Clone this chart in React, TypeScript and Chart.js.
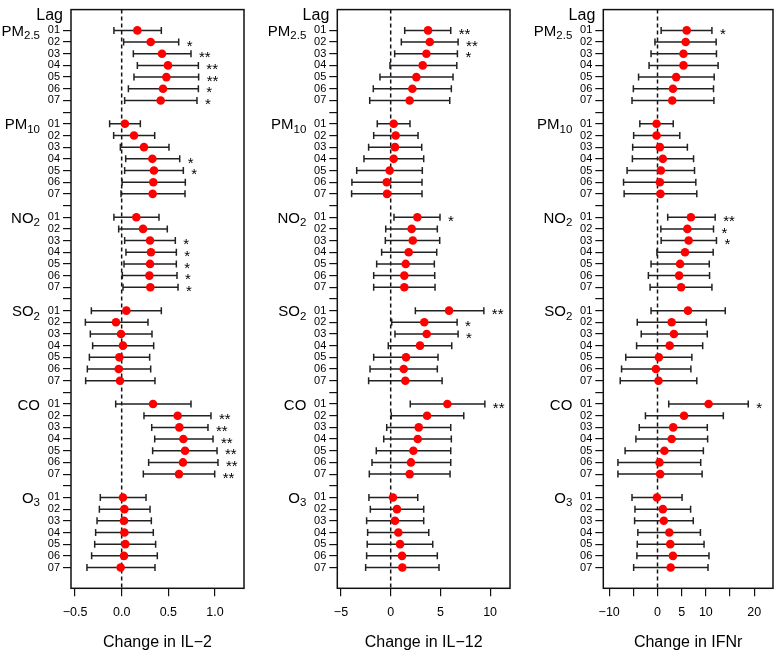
import React, { useEffect, useRef } from "react";
import { Chart, registerables } from "chart.js";

Chart.register(...registerables);

const FONT = "'Liberation Sans', Arial, Helvetica, sans-serif";

// ---------- categories ----------
const pollutantMain = ["PM", "PM", "NO", "SO", "CO", "O"];
const pollutantSub = ["2.5", "10", "2", "2", "", "3"];
const lagLabels = ["01", "02", "03", "04", "05", "06", "07"];

// ---------- IL-2 (order: PM2.5, PM10, NO2, SO2, CO, O3; lags 01..07) ----------
const il2Est = [
  0.168, 0.311, 0.432, 0.496, 0.479, 0.443, 0.418,
  0.035, 0.132, 0.239, 0.329, 0.346, 0.339, 0.332,
  0.157, 0.229, 0.304, 0.314, 0.304, 0.297, 0.307,
  0.05, -0.061, -0.007, 0.014, -0.025, -0.032, -0.018,
  0.336, 0.6, 0.618, 0.661, 0.679, 0.657, 0.614,
  0.014, 0.029, 0.025, 0.029, 0.039, 0.025, -0.011,
];
const il2Lo = [
  -0.083, 0.021, 0.125, 0.168, 0.132, 0.072, 0.032,
  -0.129, -0.086, -0.014, 0.043, 0.032, 0.004, -0.007,
  -0.083, -0.032, 0.032, 0.046, 0.025, 0.007, 0.014,
  -0.325, -0.389, -0.336, -0.311, -0.346, -0.368, -0.386,
  -0.064, 0.239, 0.322, 0.354, 0.332, 0.289, 0.232,
  -0.229, -0.239, -0.264, -0.279, -0.289, -0.322, -0.372,
];
const il2Hi = [
  0.425, 0.611, 0.743, 0.822, 0.825, 0.822, 0.807,
  0.2, 0.354, 0.507, 0.622, 0.661, 0.682, 0.679,
  0.4, 0.489, 0.575, 0.586, 0.586, 0.593, 0.604,
  0.425, 0.282, 0.325, 0.343, 0.3, 0.311, 0.357,
  0.743, 0.957, 0.925, 0.979, 1.022, 1.032, 0.997,
  0.261, 0.304, 0.318, 0.339, 0.364, 0.382, 0.357,
];
const il2Sig = [
  "", "*", "**", "**", "**", "*", "*",
  "", "", "", "*", "*", "", "",
  "", "", "*", "*", "*", "*", "*",
  "", "", "", "", "", "", "",
  "", "**", "**", "**", "**", "**", "**",
  "", "", "", "", "", "", "",
];

// ---------- IL-12 ----------
const il12Est = [
  3.76, 3.93, 3.59, 3.22, 2.58, 2.18, 1.91,
  0.3, 0.5, 0.43, 0.3, -0.1, -0.4, -0.37,
  2.68, 2.11, 2.22, 1.81, 1.51, 1.37, 1.37,
  5.87, 3.38, 3.62, 2.95, 1.54, 1.31, 1.47,
  5.7, 3.66, 2.82, 2.72, 2.28, 2.04, 1.91,
  0.23, 0.63, 0.43, 0.77, 0.94, 1.14, 1.17,
];
const il12Lo = [
  1.41, 1.07, 0.4, -0.07, -1.08, -1.75, -2.11,
  -1.35, -1.71, -2.22, -2.69, -3.42, -3.9, -3.93,
  0.33, -0.5, -0.54, -0.91, -1.41, -1.71, -1.71,
  2.48, 0.1, 0.43, -0.24, -1.71, -2.08, -2.22,
  1.97, 0.06, -0.4, -0.7, -1.45, -1.88, -2.15,
  -2.19, -2.05, -2.42, -2.32, -2.36, -2.42, -2.52,
];
const il12Hi = [
  6.04, 6.78, 6.71, 6.65, 6.27, 6.1, 5.94,
  1.94, 2.75, 3.12, 3.32, 3.18, 3.15, 3.15,
  4.96, 4.69, 4.93, 4.63, 4.39, 4.43, 4.46,
  9.37, 6.68, 6.78, 6.14, 4.76, 4.69, 5.17,
  9.47, 7.35, 6.04, 6.1, 6.04, 6.04, 5.97,
  2.72, 3.32, 3.32, 3.83, 4.23, 4.69, 4.86,
];
const il12Sig = [
  "**", "**", "*", "", "", "", "",
  "", "", "", "", "", "", "",
  "*", "", "", "", "", "", "",
  "**", "*", "*", "", "", "", "",
  "**", "", "", "", "", "", "",
  "", "", "", "", "", "", "",
];

// ---------- IFNr ----------
const ifnEst = [
  6.04, 5.83, 5.37, 5.37, 3.86, 3.19, 3.05,
  -0.2, -0.2, 0.49, 1.1, 0.69, 0.49, 0.61,
  6.91, 6.18, 6.44, 5.69, 4.67, 4.47, 4.88,
  6.3, 2.93, 3.39, 2.52, 0.28, -0.33, 0.2,
  10.57, 5.49, 3.25, 2.93, 1.42, 0.41, 0.55,
  -0.12, 1.1, 1.3, 2.44, 2.64, 3.19, 2.72,
];
const ifnLo = [
  0.75, -0.53, -1.34, -1.75, -3.92, -5.0, -5.28,
  -3.66, -4.94, -5.14, -5.2, -6.3, -7.03, -6.91,
  2.11, 0.69, 0.75, -0.12, -1.34, -1.89, -1.54,
  -1.34, -4.19, -3.37, -4.33, -6.57, -7.44, -7.72,
  2.32, -2.5, -3.78, -4.47, -6.71, -8.19, -8.19,
  -5.28, -4.67, -4.74, -4.07, -4.19, -4.27, -4.94,
];
const ifnHi = [
  11.26, 12.13, 12.2, 12.54, 11.73, 11.59, 11.67,
  3.25, 4.61, 6.18, 7.46, 7.66, 7.93, 8.13,
  11.93, 11.59, 12.2, 11.52, 10.71, 10.77, 11.26,
  14.02, 10.1, 10.3, 9.35, 7.11, 6.91, 8.13,
  18.78, 13.62, 10.3, 10.37, 9.49, 8.94, 9.23,
  5.08, 6.85, 7.4, 8.88, 9.63, 10.65, 10.45,
];
const ifnSig = [
  "*", "", "", "", "", "", "",
  "", "", "", "", "", "", "",
  "**", "*", "*", "", "", "", "",
  "", "", "", "", "", "", "",
  "*", "", "", "", "", "", "",
  "", "", "", "", "", "", "",
];

// ---------- axis ticks ----------
const il2Ticks = [-0.5, 0, 0.5, 1.0];
const il2TickLabels = ["\u22120.5", "0.0", "0.5", "1.0"];
const il12Ticks = [-5, 0, 5, 10];
const il12TickLabels = ["\u22125", "0", "5", "10"];
const ifnTicks = [-10, -5, 0, 5, 10, 15, 20];
const ifnTickLabels = ["\u221210", "", "0", "5", "10", "", "20"];

const titles = ["Change in IL\u22122", "Change in IL\u221212", "Change in IFNr"];

// row index: one blank row between pollutant groups
const rowOf = (i: number) => 1 + Math.floor(i / 7) * 8 + (i % 7);
const yRows: number[] = [];
const yRowLabels: string[] = [];
for (let p = 0; p < pollutantMain.length; p++) {
  for (let l = 0; l < lagLabels.length; l++) {
    yRows.push(1 + p * 8 + l);
    yRowLabels.push(lagLabels[l]);
  }
  if (p < pollutantMain.length - 1) {
    yRows.push(1 + p * 8 + 7);
    yRowLabels.push("");
  }
}

const Y_MIN = -0.78;
const Y_MAX = 48.78;
const H = 653;
const PLOT_TOP = 2.7;
const PLOT_BOTTOM = 588.3;

type PanelDef = {
  est: number[];
  lo: number[];
  hi: number[];
  sig: string[];
  ticks: number[];
  tickLabels: string[];
  title: string;
  xMin: number;
  xMax: number;
  canvasLeft: number;
  canvasWidth: number;
  plotLeft: number;
  plotRight: number;
};

const panels: PanelDef[] = [
  {
    est: il2Est, lo: il2Lo, hi: il2Hi, sig: il2Sig,
    ticks: il2Ticks, tickLabels: il2TickLabels, title: titles[0],
    xMin: -0.543, xMax: 1.311,
    canvasLeft: 0, canvasWidth: 259, plotLeft: 71, plotRight: 244,
  },
  {
    est: il12Est, lo: il12Lo, hi: il12Hi, sig: il12Sig,
    ticks: il12Ticks, tickLabels: il12TickLabels, title: titles[1],
    xMin: -5.37, xMax: 12.0,
    canvasLeft: 259, canvasWidth: 260, plotLeft: 337.3, plotRight: 510,
  },
  {
    est: ifnEst, lo: ifnLo, hi: ifnHi, sig: ifnSig,
    ticks: ifnTicks, tickLabels: ifnTickLabels, title: titles[2],
    xMin: -11.22, xMax: 23.9,
    canvasLeft: 519, canvasWidth: 259, plotLeft: 603.3, plotRight: 776,
  },
];

function Panel({ def }: { def: PanelDef }) {
  const ref = useRef<HTMLCanvasElement | null>(null);
  useEffect(() => {
    const canvas = ref.current;
    if (!canvas) return;
    const ciData: any[] = [];
    const estData: any[] = [];
    def.est.forEach((e, i) => {
      const r = rowOf(i);
      ciData.push({ x: def.lo[i], y: r }, { x: def.hi[i], y: r }, { x: null, y: null });
      estData.push({ x: e, y: r });
    });
    const zeroData = [{ x: 0, y: Y_MIN }, { x: 0, y: Y_MAX }];

    const yW = def.plotLeft - def.canvasLeft;
    const padRight = def.canvasLeft + def.canvasWidth - def.plotRight;

    const decor = {
      id: "decor",
      afterDraw(chart: any) {
        const ctx = chart.ctx;
        const a = chart.chartArea;
        const xs = chart.scales.x;
        const ys = chart.scales.y;
        ctx.save();
        // box
        ctx.strokeStyle = "#111";
        ctx.lineWidth = 1.5;
        ctx.strokeRect(a.left, a.top, a.right - a.left, a.bottom - a.top);
        // "Lag"
        ctx.fillStyle = "#000";
        ctx.font = `16px ${FONT}`;
        ctx.textAlign = "right";
        ctx.textBaseline = "alphabetic";
        ctx.fillText("Lag", a.left - 8, ys.getPixelForValue(0) + 1.5);
        // pollutant names with subscripts
        for (let p = 0; p < pollutantMain.length; p++) {
          const y = ys.getPixelForValue(rowOf(p * 7));
          const xEnd = a.left - 31;
          ctx.font = `11.5px ${FONT}`;
          const subW = pollutantSub[p] ? ctx.measureText(pollutantSub[p]).width : 0;
          if (pollutantSub[p]) {
            ctx.textAlign = "left";
            ctx.fillText(pollutantSub[p], xEnd - subW, y + 9);
          }
          ctx.font = `15px ${FONT}`;
          ctx.textAlign = "right";
          ctx.fillText(pollutantMain[p], xEnd - subW, y + 5.5);
        }
        // significance stars
        ctx.font = `15px ${FONT}`;
        ctx.textAlign = "left";
        def.sig.forEach((s, i) => {
          if (!s) return;
          const x = xs.getPixelForValue(def.hi[i]) + 8;
          const y = ys.getPixelForValue(rowOf(i));
          ctx.fillText(s, x, y + 8.7);
        });
        ctx.restore();
      },
    };

    const chart = new Chart(canvas, {
      type: "scatter",
      data: {
        datasets: [
          {
            label: "estimate",
            data: estData,
            pointRadius: 4.3,
            pointHoverRadius: 4.3,
            pointBackgroundColor: "#ff0000",
            pointBorderColor: "#ff0000",
            pointBorderWidth: 0,
            showLine: false,
          },
          {
            label: "ci",
            data: ciData,
            showLine: true,
            spanGaps: false,
            borderColor: "#222",
            borderWidth: 1.5,
            pointStyle: "line",
            rotation: 90,
            pointRadius: 3.5,
            pointHoverRadius: 3.5,
            pointBorderColor: "#222",
            pointBorderWidth: 1.5,
          } as any,
          {
            label: "zero",
            data: zeroData,
            showLine: true,
            borderColor: "#111",
            borderWidth: 1.5,
            borderDash: [4, 3],
            pointRadius: 0,
          } as any,
        ],
      },
      options: {
        responsive: false,
        animation: false,
        devicePixelRatio: 1,
        events: [],
        layout: { padding: { left: 0, right: padRight, top: PLOT_TOP, bottom: 0 } },
        plugins: { legend: { display: false }, tooltip: { enabled: false } },
        scales: {
          x: {
            type: "linear",
            position: "bottom",
            min: def.xMin,
            max: def.xMax,
            afterBuildTicks: (scale: any) => {
              scale.ticks = def.ticks.map((v) => ({ value: v }));
            },
            afterFit: (scale: any) => {
              scale.height = H - PLOT_BOTTOM;
            },
            ticks: {
              autoSkip: false,
              maxRotation: 0,
              padding: 9.2,
              color: "#000",
              font: { size: 12.5, family: FONT },
              callback: (v: any) => {
                const idx = def.ticks.indexOf(Number(v));
                return idx >= 0 ? def.tickLabels[idx] : "";
              },
            },
            grid: {
              display: true,
              drawOnChartArea: false,
              drawTicks: true,
              tickLength: 8,
              color: "#111",
              lineWidth: 1.2,
            },
            border: { display: false },
            title: {
              display: true,
              text: def.title,
              color: "#000",
              font: { size: 16, family: FONT },
              padding: { top: 0, bottom: 0.7 },
            },
          },
          y: {
            type: "linear",
            position: "left",
            reverse: true,
            min: Y_MIN,
            max: Y_MAX,
            afterBuildTicks: (scale: any) => {
              scale.ticks = yRows.map((v) => ({ value: v }));
            },
            afterFit: (scale: any) => {
              scale.width = yW;
            },
            ticks: {
              autoSkip: false,
              padding: 3,
              color: "#000",
              font: { size: 11, family: FONT },
              callback: (v: any) => {
                const idx = yRows.indexOf(Number(v));
                return idx >= 0 ? yRowLabels[idx] : "";
              },
            },
            grid: {
              display: true,
              drawOnChartArea: false,
              drawTicks: true,
              tickLength: 8,
              color: "#111",
              lineWidth: 1.2,
            },
            border: { display: false },
          },
        },
      },
      plugins: [decor],
    } as any);
    return () => chart.destroy();
  }, [def]);

  return (
    <canvas
      ref={ref}
      width={def.canvasWidth}
      height={H}
      style={{
        position: "absolute",
        left: def.canvasLeft,
        top: 0,
        width: def.canvasWidth,
        height: H,
      }}
    />
  );
}

export default function App() {
  return (
    <div
      style={{
        position: "absolute",
        left: 0,
        top: 0,
        width: 778,
        height: H,
        background: "#fff",
        overflow: "hidden",
      }}
    >
      {panels.map((d, i) => (
        <Panel key={i} def={d} />
      ))}
    </div>
  );
}
